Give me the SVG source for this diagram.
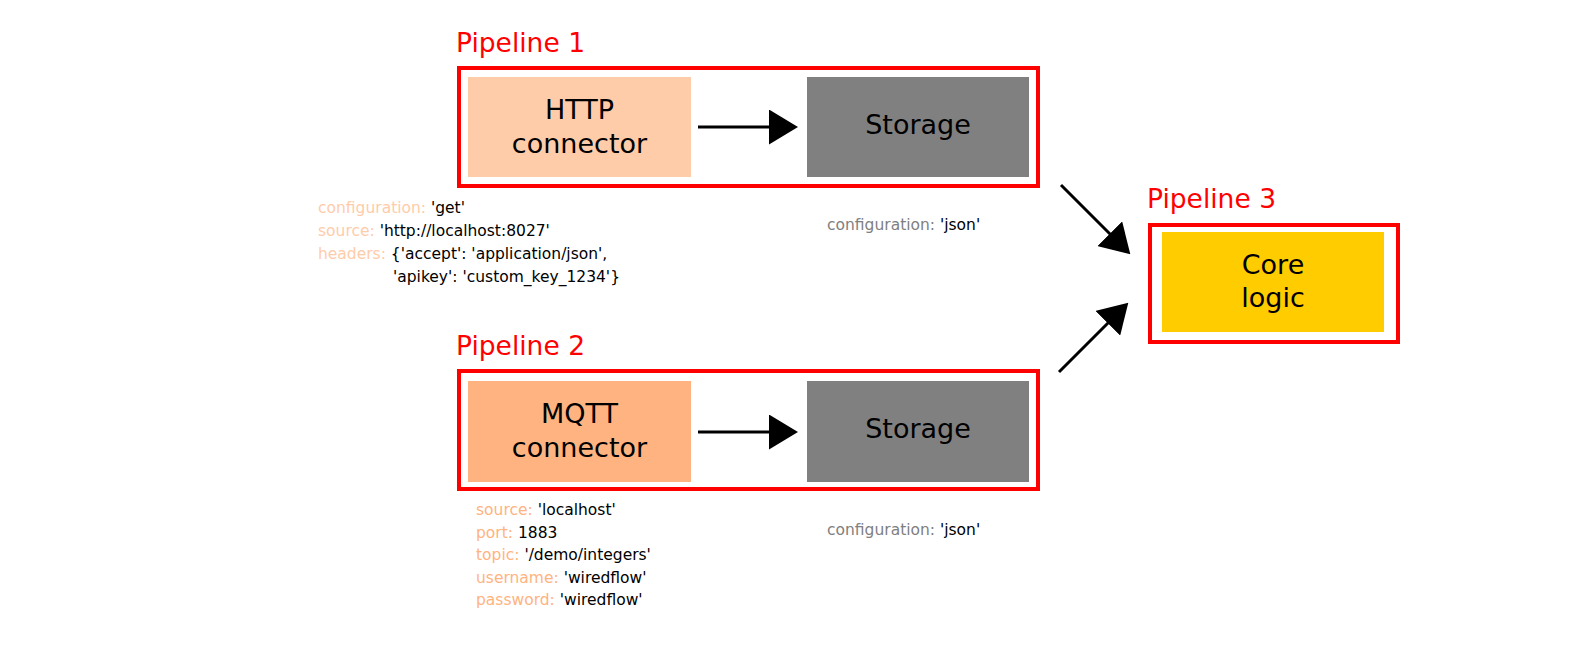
<svg xmlns="http://www.w3.org/2000/svg" width="1595" height="647" viewBox="0 0 1595 647">
  <style>
    .frame { fill: none; stroke: #ff0000; stroke-width: 4; }
    .plabel { font-family: "DejaVu Sans", Verdana, sans-serif; font-size: 26.5px; fill: #ff0000; }
    .nlabel { font-family: "DejaVu Sans", Verdana, sans-serif; font-size: 27px; fill: #000000; text-anchor: middle; }
    .cfg { font-family: "DejaVu Sans", Verdana, sans-serif; font-size: 15.5px; fill: #000000; }
    .khttp { fill: #ffccaa; }
    .kmqtt { fill: #ffb380; }
    .kstore { fill: #808080; }
    .conn { stroke: #000000; stroke-width: 3; fill: none; marker-end: url(#head); }
  </style>
  <defs>
    <marker id="head" markerUnits="userSpaceOnUse" viewBox="0 0 29 35" markerWidth="29" markerHeight="35" refX="1" refY="17.5" orient="auto">
      <path d="M0,0 L29,17.5 L0,35 Z" fill="#000000"/>
    </marker>
  </defs>
  <rect width="1595" height="647" fill="#ffffff"/>

  <g id="pipeline1">
    <text class="plabel" x="456" y="52">Pipeline 1</text>
    <rect class="frame" x="459" y="68" width="579" height="118"/>
  </g>
  <g id="http-connector">
    <rect x="468" y="77" width="223" height="100" fill="#ffccaa"/>
    <text class="nlabel" x="579.5" y="119">HTTP</text>
    <text class="nlabel" x="579.5" y="153">connector</text>
  </g>
  <g id="storage1">
    <rect x="807" y="77" width="222" height="100" fill="#808080"/>
    <text class="nlabel" x="918" y="134">Storage</text>
  </g>
  <g id="http-config">
    <text class="cfg" x="318" y="212.5"><tspan class="khttp">configuration: </tspan>'get'</text>
    <text class="cfg" x="318" y="235.5"><tspan class="khttp">source: </tspan>'http://localhost:8027'</text>
    <text class="cfg" x="318" y="258.5"><tspan class="khttp">headers: </tspan>{'accept': 'application/json',</text>
    <text class="cfg" x="393" y="281.5">'apikey': 'custom_key_1234'}</text>
  </g>
  <g id="storage1-config">
    <text class="cfg" x="827" y="230"><tspan class="kstore">configuration: </tspan>'json'</text>
  </g>

  <g id="pipeline2">
    <text class="plabel" x="456" y="355">Pipeline 2</text>
    <rect class="frame" x="459" y="371" width="579" height="118"/>
  </g>
  <g id="mqtt-connector">
    <rect x="468" y="381" width="223" height="101" fill="#ffb380"/>
    <text class="nlabel" x="579.5" y="423">MQTT</text>
    <text class="nlabel" x="579.5" y="457">connector</text>
  </g>
  <g id="storage2">
    <rect x="807" y="381" width="222" height="101" fill="#808080"/>
    <text class="nlabel" x="918" y="438">Storage</text>
  </g>
  <g id="mqtt-config">
    <text class="cfg" x="476" y="515"><tspan class="kmqtt">source: </tspan>'localhost'</text>
    <text class="cfg" x="476" y="537.5"><tspan class="kmqtt">port: </tspan>1883</text>
    <text class="cfg" x="476" y="560"><tspan class="kmqtt">topic: </tspan>'/demo/integers'</text>
    <text class="cfg" x="476" y="582.5"><tspan class="kmqtt">username: </tspan>'wiredflow'</text>
    <text class="cfg" x="476" y="605"><tspan class="kmqtt">password: </tspan>'wiredflow'</text>
  </g>
  <g id="storage2-config">
    <text class="cfg" x="827" y="535"><tspan class="kstore">configuration: </tspan>'json'</text>
  </g>

  <g id="pipeline3">
    <text class="plabel" x="1147" y="208">Pipeline 3</text>
    <rect class="frame" x="1150" y="225" width="248" height="117"/>
  </g>
  <g id="core-logic">
    <rect x="1162" y="232" width="222" height="100" fill="#ffcc00"/>
    <text class="nlabel" x="1273" y="274">Core</text>
    <text class="nlabel" x="1273" y="307">logic</text>
  </g>

  <g id="connectors">
    <line class="conn" x1="698" y1="127" x2="770" y2="127"/>
    <line class="conn" x1="698" y1="432" x2="770" y2="432"/>
    <line class="conn" x1="1061" y1="185" x2="1110.5" y2="234.5"/>
    <line class="conn" x1="1059" y1="372" x2="1108.5" y2="322.5"/>
  </g>
</svg>
